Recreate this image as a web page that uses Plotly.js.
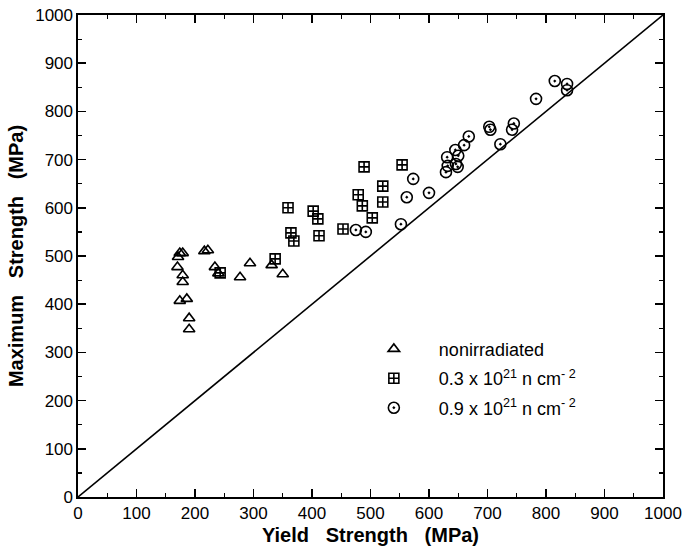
<!DOCTYPE html>
<html>
<head>
<meta charset="utf-8">
<script src="https://cdn.plot.ly/plotly-3.0.1.min.js"></script>
<style>html,body{margin:0;padding:0;background:#fff}#chart{width:689px;height:552px}</style>
</head>
<body>
<div id="chart"></div>
<script>
// Nonirradiated
const triX = [171,174,179,170,216,222,234,240,179,179,174,186,190,190,277,294,331,350];
const triY = [498,506,506,477,510,512,477,464,460,446,407,411,371,348,456,485,481,462];
// 0.3 x 10^21 n cm^-2
const sqX = [243,337,359,364,369,402,410,412,453,479,486,489,503,521,521,554];
const sqY = [465,494,600,548,531,593,577,542,556,627,604,685,579,645,612,689];
// 0.9 x 10^21 n cm^-2
const ciX = [475,492,552,562,573,600,629,631,632,646,650,649,645,660,668,703,705,722,742,745,783,815,836,836];
const ciY = [554,550,566,622,660,631,674,705,687,691,708,685,720,730,748,768,762,732,762,775,826,863,857,844];
// reference line y = x
const lineX = [0,1000];
const lineY = [0,1000];
const tickVals = [0,100,200,300,400,500,600,700,800,900,1000];

const F = 'Liberation Sans, Arial, Helvetica, sans-serif';
const mk = (sym, size) => ({symbol: sym, size: size, color: '#000', line: {color: '#000', width: 1.6}});
const sp = '\u00a0\u00a0\u00a0';

const traces = [
  {x: lineX, y: lineY, mode: 'lines', line: {color: '#000', width: 1.6}, showlegend: false, hoverinfo: 'skip'},
  {x: triX, y: triY, mode: 'markers', name: 'nonirradiated', legendgroup: 'a', marker: mk('triangle-up-open', 10)},
  {x: sqX, y: sqY, mode: 'markers', name: '0.3 x 10<sup>21</sup> n cm<sup>- 2</sup>', legendgroup: 'b', marker: mk('square-cross-open', 10)},
  {x: ciX, y: ciY, mode: 'markers', name: '0.9 x 10<sup>21</sup> n cm<sup>- 2</sup>', legendgroup: 'c', marker: mk('circle-open-dot', 11)}
];

const axisCommon = {
  range: [0, 1000], tickvals: tickVals, ticks: 'inside', ticklen: 8, tickwidth: 1.5, tickcolor: '#000',
  showline: true, linecolor: '#000', linewidth: 1.6, mirror: 'allticks', showgrid: false, zeroline: false,
  tickfont: {family: F, size: 17, color: '#000'},
  minor: {ticks: 'inside', dtick: 50, tick0: 0, ticklen: 4, tickwidth: 1.2, tickcolor: '#000', showgrid: false}
};

const layout = {
  width: 689, height: 552,
  margin: {l: 78, r: 26, t: 15, b: 55},
  paper_bgcolor: '#fff', plot_bgcolor: '#fff',
  font: {family: F, color: '#000'},
  xaxis: Object.assign({}, axisCommon, {
    title: {text: 'Yield' + sp + 'Strength' + sp + '(MPa)', font: {family: F, size: 20, color: '#000', weight: 'bold'}, standoff: 6}
  }),
  yaxis: Object.assign({}, axisCommon, {
    title: {text: 'Maximum' + sp + 'Strength' + sp + '(MPa)', font: {family: F, size: 20, color: '#000', weight: 'bold'}, standoff: 6}
  }),
  showlegend: true,
  legend: {
    x: 0.463, y: 0.345, xanchor: 'left', yanchor: 'top',
    bgcolor: 'rgba(0,0,0,0)', borderwidth: 0,
    font: {family: F, size: 18, color: '#000'},
    traceorder: 'grouped', tracegroupgap: 3, itemwidth: 80
  }
};

Plotly.newPlot('chart', traces, layout, {displayModeBar: false, staticPlot: true});
</script>
</body>
</html>
